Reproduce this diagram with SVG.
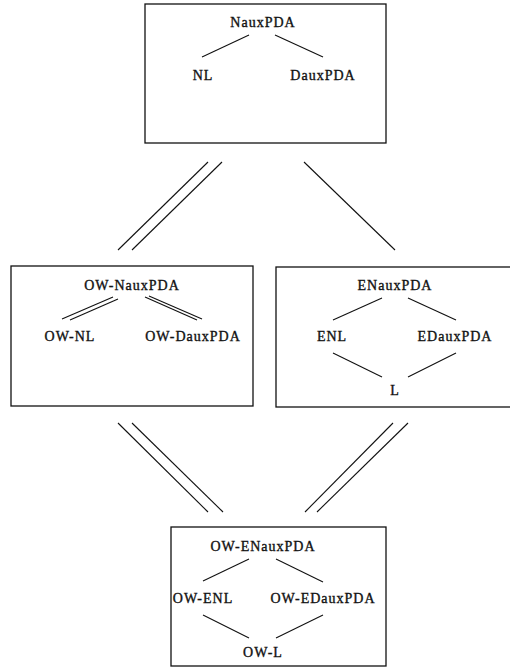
<svg xmlns="http://www.w3.org/2000/svg" width="510" height="668" viewBox="0 0 510 668">
  <style>
    .box { fill: none; stroke: #111; stroke-width: 1.3; }
    .edge { stroke: #111; stroke-width: 1.1; fill: none; }
    text { font-family: "Liberation Serif", "DejaVu Serif", serif; font-size: 14px; letter-spacing: 1px; fill: #111; stroke: #111; stroke-width: 0.35; text-anchor: middle; }
  </style>
  <rect width="510" height="668" fill="#fff"/>

  <!-- NauxPDA family -->
  <g id="nauxpda">
    <rect class="box" x="145" y="4" width="241" height="139"/>
    <text x="263" y="27">NauxPDA</text>
    <text x="203" y="80">NL</text>
    <text x="323" y="80">DauxPDA</text>
    <line class="edge" x1="202" y1="57" x2="249" y2="35"/>
    <line class="edge" x1="275" y1="35" x2="323" y2="57"/>
  </g>

  <!-- one-way variant -->
  <g id="ow-nauxpda">
    <rect class="box" x="11" y="266" width="242" height="140"/>
    <text x="132" y="290">OW-NauxPDA</text>
    <text x="70" y="341">OW-NL</text>
    <text x="193" y="341">OW-DauxPDA</text>
    <line class="edge" x1="62" y1="319" x2="113" y2="297"/>
    <line class="edge" x1="70" y1="320" x2="118" y2="299"/>
    <line class="edge" x1="145" y1="297" x2="197" y2="320"/>
    <line class="edge" x1="149" y1="296" x2="202" y2="319"/>
  </g>

  <!-- embedded variant -->
  <g id="enauxpda">
    <rect class="box" x="276" y="267" width="240" height="140"/>
    <text x="395" y="290">ENauxPDA</text>
    <text x="332" y="341">ENL</text>
    <text x="455" y="341">EDauxPDA</text>
    <text x="395" y="395">L</text>
    <line class="edge" x1="333" y1="320" x2="382" y2="298"/>
    <line class="edge" x1="408" y1="298" x2="456" y2="320"/>
    <line class="edge" x1="333" y1="353" x2="382" y2="377"/>
    <line class="edge" x1="408" y1="377" x2="456" y2="353"/>
  </g>

  <!-- one-way embedded variant -->
  <g id="ow-enauxpda">
    <rect class="box" x="171" y="527" width="215" height="139"/>
    <text x="263" y="551">OW-ENauxPDA</text>
    <text x="203" y="603">OW-ENL</text>
    <text x="323" y="603">OW-EDauxPDA</text>
    <text x="263" y="657">OW-L</text>
    <line class="edge" x1="203" y1="581" x2="249" y2="559"/>
    <line class="edge" x1="276" y1="559" x2="323" y2="582"/>
    <line class="edge" x1="203" y1="615" x2="249" y2="638"/>
    <line class="edge" x1="276" y1="638" x2="323" y2="615"/>
  </g>

  <!-- links between boxes -->
  <g id="connectors">
    <line class="edge" x1="208" y1="162" x2="118" y2="250"/>
    <line class="edge" x1="222" y1="162" x2="132" y2="250"/>
    <line class="edge" x1="304" y1="162" x2="395" y2="250"/>
    <line class="edge" x1="118" y1="423" x2="208" y2="512"/>
    <line class="edge" x1="132" y1="423" x2="223" y2="512"/>
    <line class="edge" x1="393" y1="423" x2="305" y2="512"/>
    <line class="edge" x1="408" y1="423" x2="317" y2="512"/>
  </g>
</svg>
